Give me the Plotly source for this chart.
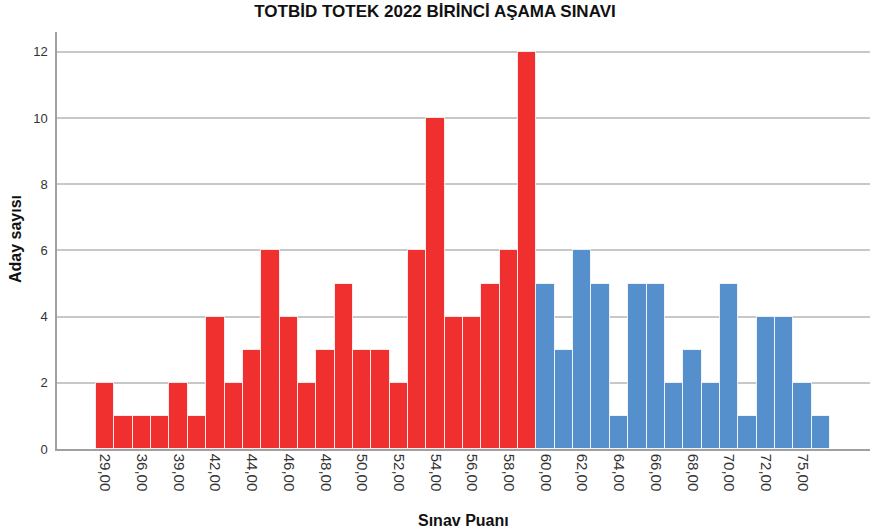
import plotly.graph_objects as go

# Score categories (SPSS-style, comma decimals) and counts
scores = ["29,00", "35,00", "36,00", "38,00", "39,00", "41,00", "42,00", "43,00",
          "44,00", "45,00", "46,00", "47,00", "48,00", "49,00", "50,00", "51,00",
          "52,00", "53,00", "54,00", "55,00", "56,00", "57,00", "58,00", "59,00",
          "60,00", "61,00", "62,00", "63,00", "64,00", "65,00", "66,00", "67,00",
          "68,00", "69,00", "70,00", "71,00", "72,00", "74,00", "75,00", "76,00"]
counts = [2, 1, 1, 1, 2, 1, 4, 2, 3, 6, 4, 2, 3, 5, 3, 3, 2, 6, 10, 4, 4, 5, 6, 12,
          5, 3, 6, 5, 1, 5, 5, 2, 3, 2, 5, 1, 4, 4, 2, 1]
shown_ticks = ["29,00", "36,00", "39,00", "42,00", "44,00", "46,00", "48,00", "50,00",
               "52,00", "54,00", "56,00", "58,00", "60,00", "62,00", "64,00", "66,00",
               "68,00", "70,00", "72,00", "75,00"]
pass_mark = 60

red = "#F0302F"
blue = "#5590CD"
colors = [red if float(s.replace(",", ".")) < pass_mark else blue for s in scores]

fig = go.Figure()
fig.add_trace(go.Bar(
    x=scores,
    y=counts,
    marker=dict(color=colors, line=dict(color="rgba(255,255,255,0.8)", width=1)),
    showlegend=False,
))

fig.update_layout(
    width=870, height=530,
    margin=dict(l=57, r=0, t=32, b=81),
    paper_bgcolor="white",
    plot_bgcolor="white",
    bargap=0,
    font=dict(family="Liberation Sans, Arial, sans-serif", color="#222222"),
    title=dict(text="<b>TOTBİD TOTEK 2022 BİRİNCİ AŞAMA SINAVI</b>",
               x=0.5, xanchor="center", y=0.99, yanchor="top",
               font=dict(size=17, color="#111111")),
    xaxis=dict(
        type="category",
        categoryorder="array", categoryarray=scores,
        range=[-2.63, 41.68],
        tickmode="array", tickvals=shown_ticks, ticktext=shown_ticks,
        tickangle=90,
        tickfont=dict(size=15, color="#333333"),
        ticks="", showgrid=False,
        showline=True, linecolor="#A0A0A0", linewidth=1.5,
        automargin=False,
    ),
    yaxis=dict(
        range=[0, 12.6],
        tickvals=[0, 2, 4, 6, 8, 10, 12],
        tickfont=dict(size=13, color="#333333"),
        ticks="outside", ticklen=5, tickcolor="rgba(0,0,0,0)",
        showgrid=True, gridcolor="#C8C8C8", gridwidth=1.5,
        showline=True, linecolor="#A0A0A0", linewidth=1.5,
        zeroline=False,
        automargin=False,
    ),
    annotations=[
        dict(text="<b>Sınav Puanı</b>", xref="paper", yref="paper",
             x=(463 - 57) / 813, y=-(520 - 449) / 417,
             xanchor="center", yanchor="middle", showarrow=False,
             font=dict(size=16, color="#111111")),
        dict(text="<b>Aday sayısı</b>", xref="paper", yref="paper",
             x=-(57 - 15) / 813, y=(449 - 239) / 417,
             xanchor="center", yanchor="middle", textangle=-90, showarrow=False,
             font=dict(size=16, color="#111111")),
    ],
)

fig.write_html("out.html", config={"displayModeBar": False},
               post_script="document.body.style.margin='0';")
